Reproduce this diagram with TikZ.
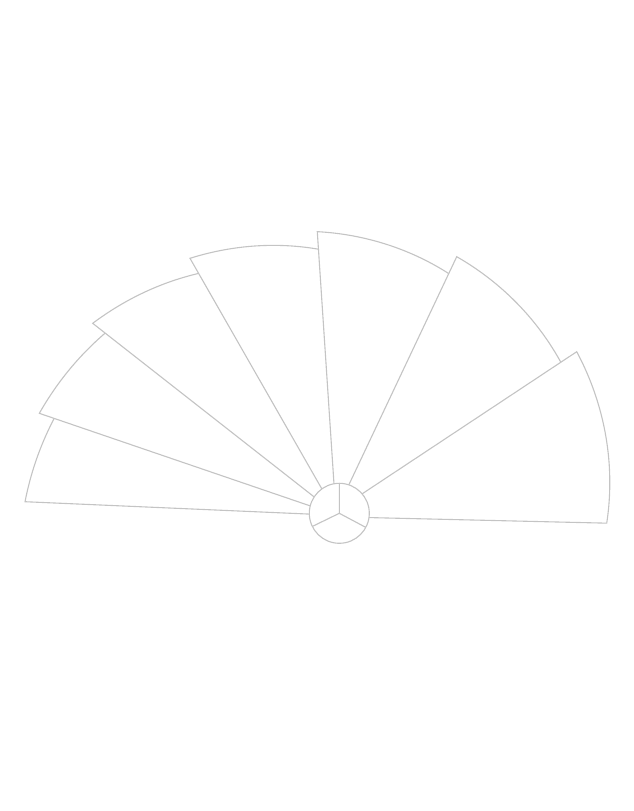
\documentclass[tikz,border=0pt]{standalone}
\usetikzlibrary{calc}
\definecolor{linegray}{RGB}{196,196,196}
\begin{document}
\begin{tikzpicture}[x=1pt,y=1pt,
  sec/.style={fill=white,draw=linegray,line width=1.1pt,line join=miter},
  spoke/.style={draw=linegray,line width=1.1pt}]
\useasboundingbox (0,0) rectangle (634,811);
\def\cx{339.3}\def\cy{297.7}
\coordinate (C) at (\cx,\cy);
\foreach \as/\rs/\aend/\rend/\ext in {
  177.89/314.5/161.93/300.8/5,
  161.57/316.2/142.46/295.5/5,
  142.39/311.3/121.12/279.2/5,
  120.35/295.5/94.76/265.2/5,
  94.47/282.5/65.57/263.6/5,
  65.41/282.2/34.66/268.3/5,
  34.24/287.2/-2.14/267.6/0}{
  \pgfmathsetmacro\kk{(\rend-\rs)/(\aend-\as)}
  \pgfmathsetmacro\sw{\aend-\ext-\as}
  \pgfmathsetmacro\bb{\as+\sw/2}
  \pgfmathsetmacro\apx{\cx-12*cos(\bb)}
  \pgfmathsetmacro\apy{\cy-12*sin(\bb)}
  \filldraw[sec] (\apx,\apy) -- plot[domain=0:1,samples=60,variable=\t]
    ({\cx+(\rs+\kk*\t*\sw)*cos(\as+\t*\sw)},{\cy+(\rs+\kk*\t*\sw)*sin(\as+\t*\sw)}) -- cycle;
}
\filldraw[sec] (C) circle[radius=30];
\coordinate (s1) at ($(C)+(90:30)$);
\coordinate (s2) at ($(C)+(206:30)$);
\coordinate (s3) at ($(C)+(-28:30)$);
\draw[spoke] (C) -- (s1) (C) -- (s2) (C) -- (s3);
\end{tikzpicture}
\end{document}
